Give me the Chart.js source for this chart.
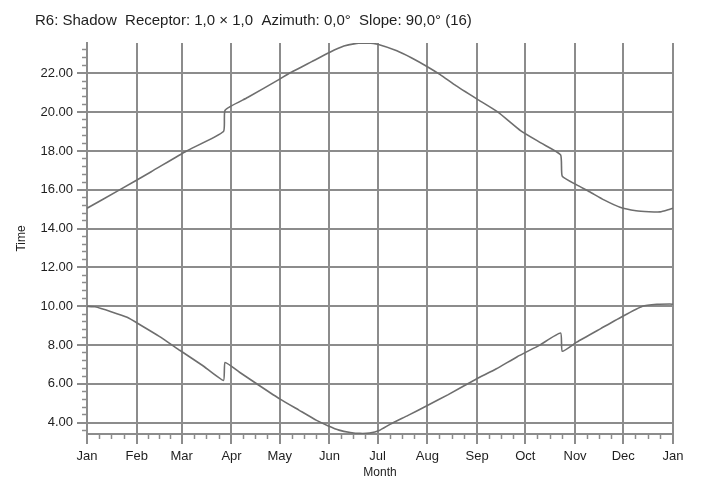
<!DOCTYPE html>
<html>
<head>
<meta charset="utf-8">
<script src="https://cdn.jsdelivr.net/npm/chart.js@4/dist/chart.umd.min.js"></script>
<style>
  html, body { margin: 0; padding: 0; background: #fff; }
</style>
</head>
<body>
<canvas id="chart" width="702" height="482"></canvas>
<script>
// month axis (day of year)
const monthLabels = ["Jan", "Feb", "Mar", "Apr", "May", "Jun", "Jul", "Aug", "Sep", "Oct", "Nov", "Dec", "Jan"];
const monthStarts = [0, 31, 59, 90, 120, 151, 181, 212, 243, 273, 304, 334, 365];

// time axis
const timeTicks = [4, 6, 8, 10, 12, 14, 16, 18, 20, 22];
const timeMin = 3.42;
const timeMax = 23.56;
const timeMinorStep = 0.4;

// shadow end (upper curve)
const upperDays = [0, 20, 40, 62, 85, 86, 100, 120, 126, 140, 151, 160, 168, 175, 181, 193, 202, 212, 220, 230, 243, 256, 270, 283, 295, 296, 305, 313, 322, 332, 342, 350, 357, 363, 365];
const upperTimes = [15.05, 15.98, 16.93, 18.0, 19.0, 20.1, 20.75, 21.7, 22.0, 22.6, 23.07, 23.4, 23.54, 23.56, 23.5, 23.16, 22.8, 22.34, 21.93, 21.35, 20.67, 20.0, 19.05, 18.4, 17.8, 16.7, 16.25, 15.9, 15.48, 15.1, 14.92, 14.87, 14.86, 15.0, 15.05];

// shadow start (lower curve)
const lowerDays = [0, 5, 15, 25, 33, 45, 58, 72, 85, 86, 95, 108, 120, 132, 143, 150, 157, 164, 170, 176, 182, 189, 200, 212, 225, 242, 255, 268, 282, 295, 296, 305, 320, 334, 346, 355, 363, 365];
const lowerTimes = [10.0, 9.97, 9.72, 9.43, 9.05, 8.45, 7.72, 6.95, 6.18, 7.1, 6.6, 5.88, 5.23, 4.65, 4.12, 3.85, 3.62, 3.5, 3.45, 3.47, 3.6, 3.93, 4.38, 4.89, 5.45, 6.23, 6.78, 7.4, 8.0, 8.62, 7.68, 8.15, 8.85, 9.5, 10.0, 10.1, 10.12, 10.1];

const gridGrey = "#8c8c8c";
const lineGrey = "#6e6e6e";
const textColor = "#1e1e1e";
const fontFamily = "'Liberation Sans', Arial, sans-serif";

const toPoints = (days, times) => days.map((d, i) => ({ x: d, y: times[i] }));

const minorDays = [];
for (let m = 0; m < monthStarts.length - 1; m++) {
	const len = monthStarts[m + 1] - monthStarts[m];
	for (let k = 1; k < 4; k++) minorDays.push(monthStarts[m] + (len * k) / 4);
}

const minorTimes = [];
for (let k = Math.ceil(timeMin / timeMinorStep); k * timeMinorStep <= timeMax; k++) {
	const v = Math.round(k * timeMinorStep * 100) / 100;
	if (!timeTicks.includes(v)) minorTimes.push(v);
}

const lineStyle = {
	borderColor: lineGrey,
	borderWidth: 1.6,
	pointRadius: 0,
	tension: 0.15,
	fill: false,
};

const data = {
	datasets: [
		{ label: "End", data: toPoints(upperDays, upperTimes), ...lineStyle },
		{ label: "Start", data: toPoints(lowerDays, lowerTimes), ...lineStyle },
	],
};

const options = {
	responsive: false,
	animation: false,
	devicePixelRatio: 1,
	layout: {
		padding: { left: 35, right: 29, top: 0, bottom: 0 },
	},
	plugins: {
		legend: { display: false },
		tooltip: { enabled: false },
		title: {
			display: true,
			align: "start",
			text: "R6: Shadow  Receptor: 1,0 × 1,0  Azimuth: 0,0°  Slope: 90,0° (16)",
			color: textColor,
			font: { family: fontFamily, size: 15, weight: "normal" },
			padding: { top: 12, bottom: 13 },
		},
	},
	scales: {
		x: {
			type: "linear",
			position: "bottom",
			min: 0,
			max: 365,
			afterBuildTicks: (axis) => {
				axis.ticks = monthStarts.map((v) => ({ value: v }));
			},
			afterFit: (axis) => {
				axis.height = 48;
			},
			grid: { color: gridGrey, lineWidth: 2, tickLength: 10, tickColor: gridGrey },
			border: { color: gridGrey, width: 2 },
			ticks: {
				autoSkip: false,
				maxRotation: 0,
				padding: 5,
				color: textColor,
				font: { family: fontFamily, size: 13 },
				callback: (value, index) => monthLabels[index],
			},
			title: {
				display: true,
				text: "Month",
				color: textColor,
				font: { family: fontFamily, size: 12 },
				padding: { top: 0, bottom: 2 },
			},
		},
		y: {
			type: "linear",
			position: "left",
			min: timeMin,
			max: timeMax,
			afterBuildTicks: (axis) => {
				axis.ticks = timeTicks.map((v) => ({ value: v }));
			},
			afterFit: (axis) => {
				axis.width = 52;
			},
			grid: { color: gridGrey, lineWidth: 2, tickLength: 10, tickColor: gridGrey },
			border: { color: gridGrey, width: 2 },
			ticks: {
				padding: 4,
				color: textColor,
				font: { family: fontFamily, size: 13 },
				callback: (value) => value.toFixed(2),
			},
			title: {
				display: true,
				text: "Time",
				color: textColor,
				font: { family: fontFamily, size: 12 },
				padding: { top: -21, bottom: 0 },
			},
		},
		xMinor: {
			type: "linear",
			position: { y: timeMin },
			min: 0,
			max: 365,
			afterBuildTicks: (axis) => {
				axis.ticks = minorDays.map((v) => ({ value: v }));
			},
			grid: { drawOnChartArea: false, tickLength: 5, tickColor: gridGrey, tickWidth: 1.5 },
			border: { display: false },
			ticks: { display: false },
		},
		yMinor: {
			type: "linear",
			position: { x: 0 },
			min: timeMin,
			max: timeMax,
			afterBuildTicks: (axis) => {
				axis.ticks = minorTimes.map((v) => ({ value: v }));
			},
			grid: { drawOnChartArea: false, tickLength: 5, tickColor: gridGrey, tickWidth: 1.5 },
			border: { display: false },
			ticks: { display: false },
		},
	},
};

new Chart(document.querySelector("#chart"), { type: "line", data, options });
</script>
</body>
</html>
